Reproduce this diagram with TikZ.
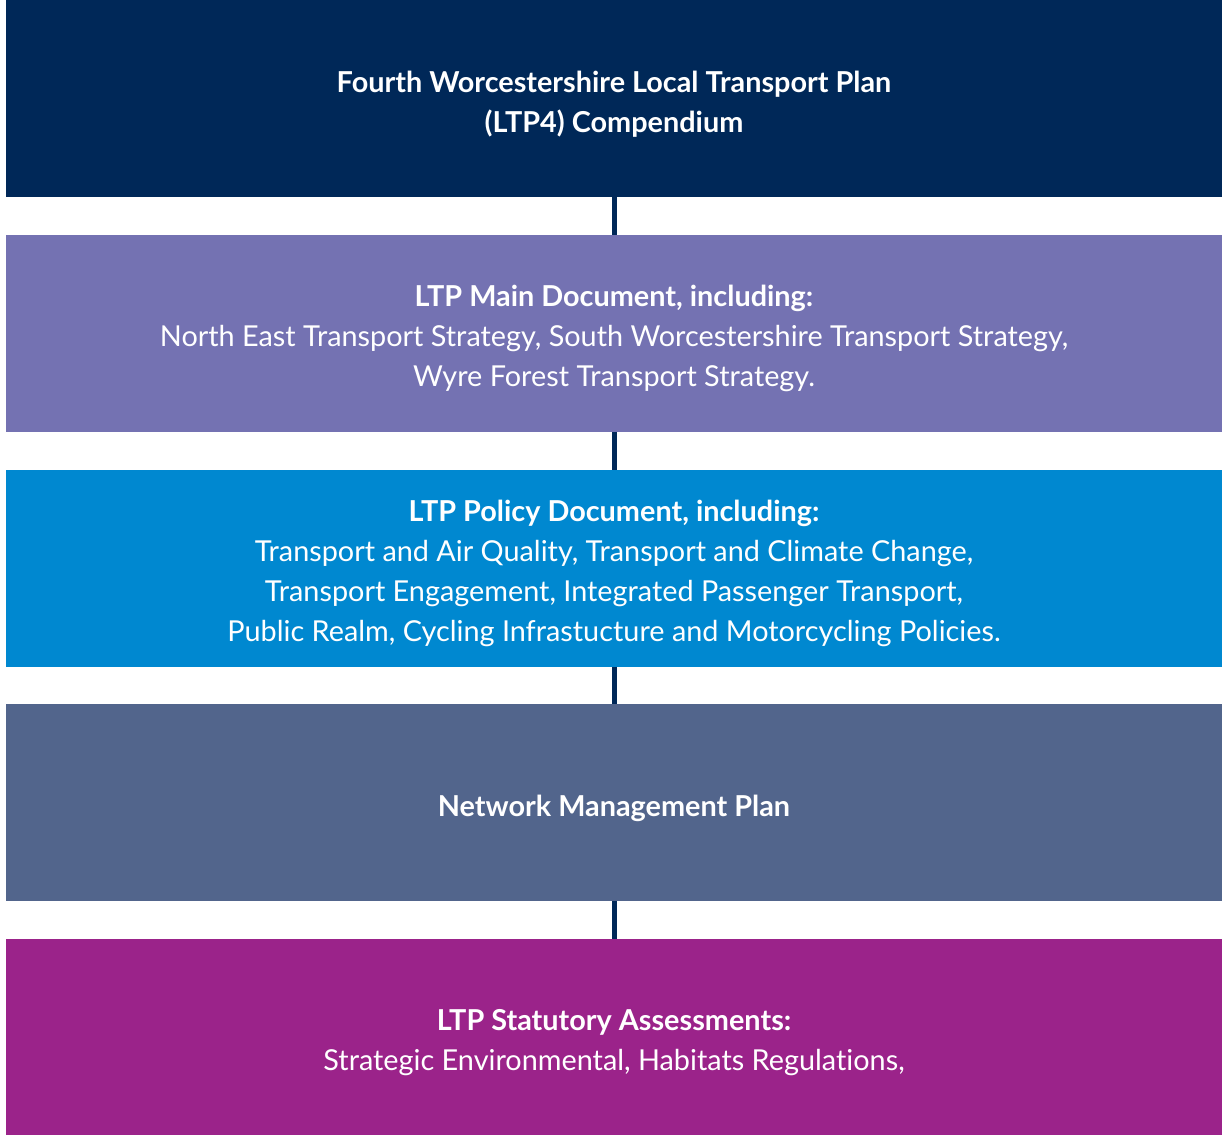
\documentclass[tikz,border=0pt]{standalone}
\usepackage{fontspec}
\setmainfont{Lato}[Ligatures=NoCommon]
\usepackage{tikz}

\definecolor{ltpnavy}{RGB}{0,40,88}
\definecolor{ltpviolet}{RGB}{116,114,178}
\definecolor{ltpblue}{RGB}{0,136,208}
\definecolor{ltpslate}{RGB}{82,101,140}
\definecolor{ltpplum}{RGB}{155,35,138}

\newcommand{\ltpstrut}{\rule{0pt}{18pt}}

\begin{document}
\begin{tikzpicture}
 [plan node/.style={node distance=4.694cm, rectangle, minimum width=24.32cm, minimum height=3.94cm,
   inner sep=0pt, outer sep=0pt, align=center, text=white, font=\fontsize{16.4}{22.7}\selectfont},
  link/.style={-, line width=0.1cm, draw=ltpnavy}]

\useasboundingbox (0,0) rectangle (24.44,-22.70);

\node[plan node, fill=ltpnavy] (1) at (12.28,-1.975) {\ltpstrut\textbf{Fourth Worcestershire Local Transport Plan}\\\textbf{(LTP4) Compendium}};
 \node[plan node, fill=ltpviolet] (2) [below of=1] {\ltpstrut\textbf{LTP Main Document, including:}\\North East Transport Strategy, South Worcestershire Transport Strategy,\\Wyre Forest Transport Strategy.};
 \node[plan node, fill=ltpblue] (3) [below of=2] {\ltpstrut\textbf{LTP Policy Document, including:}\\Transport and Air Quality, Transport and Climate Change,\\Transport Engagement, Integrated Passenger Transport,\\Public Realm, Cycling Infrastucture and Motorcycling Policies.};
 \node[plan node, fill=ltpslate] (4) [below of=3] {\ltpstrut\textbf{Network Management Plan}};
 \node[plan node, fill=ltpplum] (5) [below of=4] {\ltpstrut\textbf{LTP Statutory Assessments:}\\Strategic Environmental, Habitats Regulations,};

\path
  (1) edge [link] (2)
  (2) edge [link] (3)
  (3) edge [link] (4)
  (4) edge [link] (5);

\end{tikzpicture}
\end{document}
